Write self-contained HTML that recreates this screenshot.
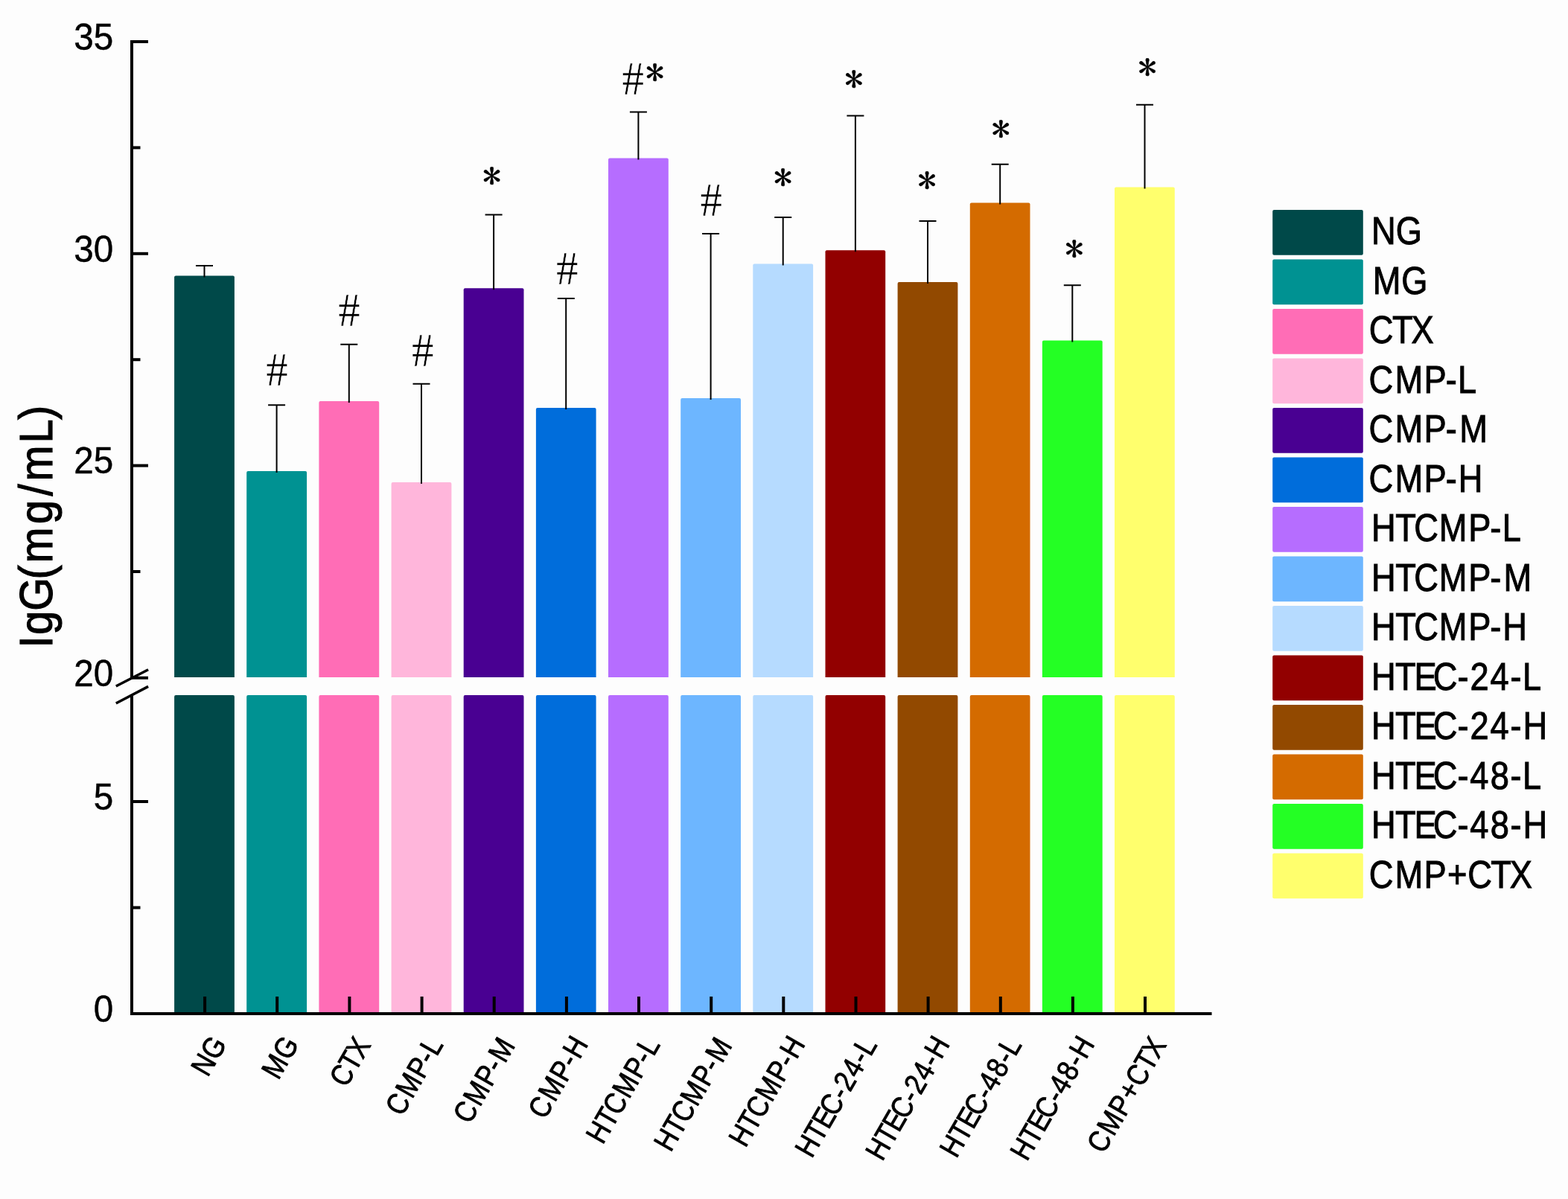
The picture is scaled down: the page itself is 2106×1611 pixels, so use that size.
<!DOCTYPE html>
<html><head><meta charset="utf-8"><title>IgG</title><style>html,body{margin:0;padding:0;background:#fdfdfd;overflow:hidden}svg{display:block}</style></head><body>
<svg width="2106" height="1611" viewBox="0 0 2106 1611">
<rect x="0" y="0" width="2106" height="1611" fill="#fdfdfd"/>
<path d="M234.1 910.0V372.4Q234.1 370.4 236.1 370.4H312.9Q314.9 370.4 314.9 372.4V910.0Z" fill="#004949"/>
<path d="M234.1 1360.0V936.0Q234.1 934.0 236.1 934.0H312.9Q314.9 934.0 314.9 936.0V1360.0Z" fill="#004949"/>
<path d="M331.2 910.0V635.0Q331.2 633.0 333.2 633.0H410.1Q412.1 633.0 412.1 635.0V910.0Z" fill="#009292"/>
<path d="M331.2 1360.0V936.0Q331.2 934.0 333.2 934.0H410.1Q412.1 934.0 412.1 936.0V1360.0Z" fill="#009292"/>
<path d="M428.4 910.0V540.9Q428.4 538.9 430.4 538.9H507.2Q509.2 538.9 509.2 540.9V910.0Z" fill="#ff6db6"/>
<path d="M428.4 1360.0V936.0Q428.4 934.0 430.4 934.0H507.2Q509.2 934.0 509.2 936.0V1360.0Z" fill="#ff6db6"/>
<path d="M525.6 910.0V650.1Q525.6 648.1 527.6 648.1H604.4Q606.4 648.1 606.4 650.1V910.0Z" fill="#ffb6db"/>
<path d="M525.6 1360.0V936.0Q525.6 934.0 527.6 934.0H604.4Q606.4 934.0 606.4 936.0V1360.0Z" fill="#ffb6db"/>
<path d="M622.7 910.0V389.2Q622.7 387.2 624.7 387.2H701.5Q703.5 387.2 703.5 389.2V910.0Z" fill="#490092"/>
<path d="M622.7 1360.0V936.0Q622.7 934.0 624.7 934.0H701.5Q703.5 934.0 703.5 936.0V1360.0Z" fill="#490092"/>
<path d="M719.9 910.0V549.9Q719.9 547.9 721.9 547.9H798.6Q800.6 547.9 800.6 549.9V910.0Z" fill="#006ddb"/>
<path d="M719.9 1360.0V936.0Q719.9 934.0 721.9 934.0H798.6Q800.6 934.0 800.6 936.0V1360.0Z" fill="#006ddb"/>
<path d="M817.0 910.0V214.5Q817.0 212.5 819.0 212.5H895.8Q897.8 212.5 897.8 214.5V910.0Z" fill="#b66dff"/>
<path d="M817.0 1360.0V936.0Q817.0 934.0 819.0 934.0H895.8Q897.8 934.0 897.8 936.0V1360.0Z" fill="#b66dff"/>
<path d="M914.2 910.0V537.0Q914.2 535.0 916.2 535.0H993.0Q995.0 535.0 995.0 537.0V910.0Z" fill="#6db6ff"/>
<path d="M914.2 1360.0V936.0Q914.2 934.0 916.2 934.0H993.0Q995.0 934.0 995.0 936.0V1360.0Z" fill="#6db6ff"/>
<path d="M1011.3 910.0V356.5Q1011.3 354.5 1013.3 354.5H1090.1Q1092.1 354.5 1092.1 356.5V910.0Z" fill="#b6dbff"/>
<path d="M1011.3 1360.0V936.0Q1011.3 934.0 1013.3 934.0H1090.1Q1092.1 934.0 1092.1 936.0V1360.0Z" fill="#b6dbff"/>
<path d="M1108.5 910.0V338.3Q1108.5 336.3 1110.5 336.3H1187.2Q1189.2 336.3 1189.2 338.3V910.0Z" fill="#920000"/>
<path d="M1108.5 1360.0V936.0Q1108.5 934.0 1110.5 934.0H1187.2Q1189.2 934.0 1189.2 936.0V1360.0Z" fill="#920000"/>
<path d="M1205.6 910.0V381.0Q1205.6 379.0 1207.6 379.0H1284.4Q1286.4 379.0 1286.4 381.0V910.0Z" fill="#924900"/>
<path d="M1205.6 1360.0V936.0Q1205.6 934.0 1207.6 934.0H1284.4Q1286.4 934.0 1286.4 936.0V1360.0Z" fill="#924900"/>
<path d="M1302.8 910.0V274.4Q1302.8 272.4 1304.8 272.4H1381.5Q1383.5 272.4 1383.5 274.4V910.0Z" fill="#d46b00"/>
<path d="M1302.8 1360.0V936.0Q1302.8 934.0 1304.8 934.0H1381.5Q1383.5 934.0 1383.5 936.0V1360.0Z" fill="#d46b00"/>
<path d="M1399.9 910.0V459.4Q1399.9 457.4 1401.9 457.4H1478.7Q1480.7 457.4 1480.7 459.4V910.0Z" fill="#24ff24"/>
<path d="M1399.9 1360.0V936.0Q1399.9 934.0 1401.9 934.0H1478.7Q1480.7 934.0 1480.7 936.0V1360.0Z" fill="#24ff24"/>
<path d="M1497.0 910.0V253.6Q1497.0 251.6 1499.0 251.6H1575.8Q1577.8 251.6 1577.8 253.6V910.0Z" fill="#ffff6d"/>
<path d="M1497.0 1360.0V936.0Q1497.0 934.0 1499.0 934.0H1575.8Q1577.8 934.0 1577.8 936.0V1360.0Z" fill="#ffff6d"/>
<g stroke="#000" stroke-width="2" fill="none">
<path d="M274.5 372.4V357.0M263.0 357.0H286.0"/>
<path d="M371.6 635.0V544.2M360.1 544.2H383.1"/>
<path d="M468.8 540.9V462.8M457.3 462.8H480.3"/>
<path d="M566.0 650.1V515.8M554.5 515.8H577.5"/>
<path d="M663.1 389.2V288.5M651.6 288.5H674.6"/>
<path d="M760.2 549.9V400.9M748.8 400.9H771.8"/>
<path d="M857.4 214.5V150.4M845.9 150.4H868.9"/>
<path d="M954.6 537.0V314.0M943.1 314.0H966.1"/>
<path d="M1051.7 356.5V291.9M1040.2 291.9H1063.2"/>
<path d="M1148.9 338.3V155.5M1137.4 155.5H1160.4"/>
<path d="M1246.0 381.0V297.0M1234.5 297.0H1257.5"/>
<path d="M1343.2 274.4V220.8M1331.7 220.8H1354.7"/>
<path d="M1440.3 459.4V383.2M1428.8 383.2H1451.8"/>
<path d="M1537.5 253.6V140.8M1526.0 140.8H1549.0"/>
</g>
<g stroke="#000" stroke-width="4" fill="none">
<path d="M177 54V911"/>
<path d="M177 933V1362H1627.5"/>
<path d="M177 56H199"/>
<path d="M177 340.8H199"/>
<path d="M177 625.6H199"/>
<path d="M177 910.8H199"/>
<path d="M177 1077H199"/>
<path d="M177 1362H199"/>
<path d="M177 198.4H188.5"/>
<path d="M177 483.2H188.5"/>
<path d="M177 768H188.5"/>
<path d="M177 1219.5H188.5"/>
<path d="M275.1 1362V1339"/>
<path d="M372.2 1362V1339"/>
<path d="M469.4 1362V1339"/>
<path d="M566.6 1362V1339"/>
<path d="M663.7 1362V1339"/>
<path d="M760.9 1362V1339"/>
<path d="M858.0 1362V1339"/>
<path d="M955.2 1362V1339"/>
<path d="M1052.3 1362V1339"/>
<path d="M1149.5 1362V1339"/>
<path d="M1246.6 1362V1339"/>
<path d="M1343.8 1362V1339"/>
<path d="M1440.9 1362V1339"/>
<path d="M1538.0 1362V1339"/>
</g>
<g stroke="#000" stroke-width="3.5">
<path d="M155.8 922L199.1 899.7"/>
<path d="M155.8 945L199.1 922.4"/>
</g>
<g font-family="Liberation Sans, sans-serif" font-size="50.3" text-anchor="end" fill="#000" stroke="#000" stroke-width="0.5">
<text transform="translate(152.2 66.8) scale(0.945 1)">35</text>
<text transform="translate(152.2 351.6) scale(0.945 1)">30</text>
<text transform="translate(152.2 636.4) scale(0.945 1)">25</text>
<text transform="translate(152.2 921.6) scale(0.945 1)">20</text>
<text transform="translate(152.2 1087.8) scale(0.945 1)">5</text>
<text transform="translate(152.2 1372.8) scale(0.945 1)">0</text>
</g>
<g font-family="Liberation Serif, serif" font-size="63.5" text-anchor="middle" fill="#000" stroke="#fdfdfd" stroke-width="0.5">
<text transform="translate(371.9 518.3) scale(0.93 1)">#</text>
<text transform="translate(469.0 437.6) scale(0.93 1)">#</text>
<text transform="translate(567.7 492.2) scale(0.93 1)">#</text>
<text transform="translate(761.8 381.8) scale(0.93 1)">#</text>
<text transform="translate(850.2 127.1) scale(0.93 1)">#</text>
<text transform="translate(955.2 289.9) scale(0.93 1)">#</text>
</g>
<g font-family="IPAGothic, sans-serif" font-size="48" text-anchor="middle" fill="#000" stroke="#000" stroke-width="0.5">
<text transform="translate(660.5 253.7) scale(1.05 1)">*</text>
<text transform="translate(879.5 115.1) scale(1.05 1)">*</text>
<text transform="translate(1051.5 256.2) scale(1.05 1)">*</text>
<text transform="translate(1146.8 124.1) scale(1.05 1)">*</text>
<text transform="translate(1245.2 260.2) scale(1.05 1)">*</text>
<text transform="translate(1344.3 190.5) scale(1.05 1)">*</text>
<text transform="translate(1442.9 351.6) scale(1.05 1)">*</text>
<text transform="translate(1541.1 107.9) scale(1.05 1)">*</text>
</g>
<g font-family="Liberation Sans, sans-serif" font-size="40.3" fill="#000" stroke="#000" stroke-width="0.9">
<text transform="translate(304.0 1404.8) rotate(-60) scale(0.866 1)" x="-58.01 -28.58">NG</text>
<text transform="translate(401.1 1404.8) rotate(-60) scale(0.866 1)" x="-63.12 -28.49">MG</text>
<text transform="translate(498.3 1404.8) rotate(-60) scale(0.866 1)" x="-76.87 -48.86 -25.81">CTX</text>
<text transform="translate(595.5 1404.8) rotate(-60) scale(0.866 1)" x="-128.44 -97.08 -62.00 -35.75 -21.06">CMP-L</text>
<text transform="translate(692.6 1404.8) rotate(-60) scale(0.866 1)" x="-142.54 -111.18 -76.10 -49.86 -33.12">CMP-M</text>
<text transform="translate(789.8 1404.8) rotate(-60) scale(0.866 1)" x="-134.36 -103.01 -67.93 -41.68 -26.41">CMP-H</text>
<text transform="translate(886.9 1404.8) rotate(-60) scale(0.866 1)" x="-178.91 -150.06 -127.49 -97.35 -61.95 -35.89 -21.11">HTCMP-L</text>
<text transform="translate(984.1 1404.8) rotate(-60) scale(0.866 1)" x="-192.74 -163.89 -141.33 -111.18 -75.79 -49.72 -33.16">HTCMP-M</text>
<text transform="translate(1081.2 1404.8) rotate(-60) scale(0.866 1)" x="-184.75 -155.90 -133.33 -103.19 -67.79 -41.73 -26.41">HTCMP-H</text>
<text transform="translate(1178.4 1404.8) rotate(-60) scale(0.866 1)" x="-203.48 -174.81 -151.81 -129.11 -99.90 -84.51 -60.32 -35.98 -21.20">HTEC-24-L</text>
<text transform="translate(1275.5 1404.8) rotate(-60) scale(0.866 1)" x="-209.05 -180.38 -157.38 -134.68 -105.47 -90.08 -65.89 -41.55 -26.36">HTEC-24-H</text>
<text transform="translate(1372.7 1404.8) rotate(-60) scale(0.866 1)" x="-203.48 -174.81 -151.81 -129.11 -99.90 -84.80 -60.08 -35.98 -21.20">HTEC-48-L</text>
<text transform="translate(1469.8 1404.8) rotate(-60) scale(0.866 1)" x="-209.05 -180.38 -157.38 -134.68 -105.47 -90.37 -65.65 -41.55 -26.36">HTEC-48-H</text>
<text transform="translate(1567.0 1404.8) rotate(-60) scale(0.866 1)" x="-195.63 -164.41 -129.47 -101.12 -76.64 -48.72 -25.76">CMP+CTX</text>
</g>
<text transform="translate(70.3 866.2) rotate(-90) scale(0.92 1)" x="-4.68 14.54 49.50 95.36 119.17 176.22 217.11 238.95 294.36 328.42" font-family="Liberation Sans, sans-serif" font-size="62.6" fill="#000" stroke="#000" stroke-width="1.2">IgG(mg/mL)</text>
<rect x="1709.2" y="281.9" width="121.6" height="60.8" rx="2" fill="#004949"/>
<rect x="1709.2" y="348.4" width="121.6" height="60.8" rx="2" fill="#009292"/>
<rect x="1709.2" y="414.9" width="121.6" height="60.8" rx="2" fill="#ff6db6"/>
<rect x="1709.2" y="481.4" width="121.6" height="60.8" rx="2" fill="#ffb6db"/>
<rect x="1709.2" y="547.9" width="121.6" height="60.8" rx="2" fill="#490092"/>
<rect x="1709.2" y="614.4" width="121.6" height="60.8" rx="2" fill="#006ddb"/>
<rect x="1709.2" y="680.9" width="121.6" height="60.8" rx="2" fill="#b66dff"/>
<rect x="1709.2" y="747.4" width="121.6" height="60.8" rx="2" fill="#6db6ff"/>
<rect x="1709.2" y="813.9" width="121.6" height="60.8" rx="2" fill="#b6dbff"/>
<rect x="1709.2" y="880.4" width="121.6" height="60.8" rx="2" fill="#920000"/>
<rect x="1709.2" y="946.9" width="121.6" height="60.8" rx="2" fill="#924900"/>
<rect x="1709.2" y="1013.4" width="121.6" height="60.8" rx="2" fill="#d46b00"/>
<rect x="1709.2" y="1079.9" width="121.6" height="60.8" rx="2" fill="#24ff24"/>
<rect x="1709.2" y="1146.4" width="121.6" height="60.8" rx="2" fill="#ffff6d"/>
<g font-family="Liberation Sans, sans-serif" font-size="52.3" fill="#000" stroke="#000" stroke-width="1">
<text transform="translate(0 328.4) scale(0.866 1)" x="2126.99 2164.81">NG</text>
<text transform="translate(0 394.9) scale(0.866 1)" x="2129.05 2173.59">MG</text>
<text transform="translate(0 461.4) scale(0.866 1)" x="2123.18 2159.22 2188.83">CTX</text>
<text transform="translate(0 527.9) scale(0.866 1)" x="2123.07 2163.35 2208.47 2242.30 2261.11">CMP-L</text>
<text transform="translate(0 594.4) scale(0.866 1)" x="2123.07 2163.35 2208.47 2242.30 2263.69">CMP-M</text>
<text transform="translate(0 660.9) scale(0.866 1)" x="2123.07 2163.35 2208.47 2242.30 2261.84">CMP-H</text>
<text transform="translate(0 727.4) scale(0.866 1)" x="2127.02 2164.13 2193.10 2231.82 2277.35 2310.95 2329.88">HTCMP-L</text>
<text transform="translate(0 793.9) scale(0.866 1)" x="2127.02 2164.13 2193.10 2231.82 2277.35 2310.95 2332.11">HTCMP-M</text>
<text transform="translate(0 860.4) scale(0.866 1)" x="2127.02 2164.13 2193.10 2231.82 2277.35 2310.95 2330.54">HTCMP-H</text>
<text transform="translate(0 926.9) scale(0.866 1)" x="2127.08 2163.96 2193.49 2222.67 2260.31 2280.03 2311.13 2342.47 2361.40">HTEC-24-L</text>
<text transform="translate(0 993.4) scale(0.866 1)" x="2127.08 2163.96 2193.49 2222.67 2260.31 2280.03 2311.13 2342.47 2361.89">HTEC-24-H</text>
<text transform="translate(0 1059.9) scale(0.866 1)" x="2127.08 2163.96 2193.49 2222.67 2260.31 2279.67 2311.44 2342.47 2361.40">HTEC-48-L</text>
<text transform="translate(0 1126.4) scale(0.866 1)" x="2127.08 2163.96 2193.49 2222.67 2260.31 2279.67 2311.44 2342.47 2361.89">HTEC-48-H</text>
<text transform="translate(0 1192.9) scale(0.866 1)" x="2123.30 2163.40 2208.36 2244.83 2276.24 2312.17 2341.66">CMP+CTX</text>
</g>
</svg></body></html>
